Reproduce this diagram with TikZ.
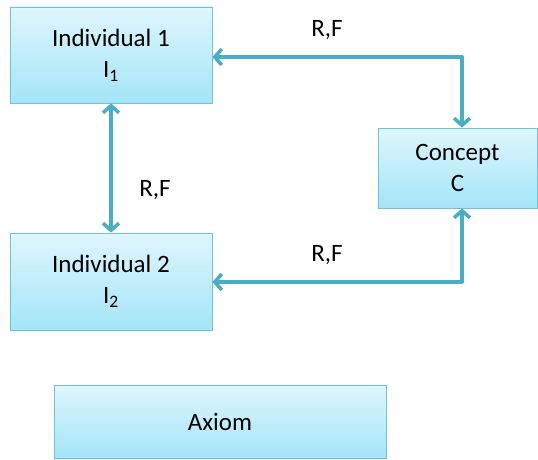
\documentclass[tikz,border=0pt]{standalone}
\usepackage{fontspec}
\setmainfont{Carlito}
\usetikzlibrary{arrows.meta,shadows}
\definecolor{boxtop}{HTML}{DFF6FD}
\definecolor{boxbot}{HTML}{A3E5F8}
\definecolor{boxline}{HTML}{6CC3DC}
\definecolor{conncol}{HTML}{4BACC6}
\tikzset{
  box/.style={draw=boxline, line width=0.8pt, top color=boxtop, bottom color=boxbot,
    align=center, font=\fontsize{25}{31}\selectfont, inner sep=0pt,
    drop shadow={shadow xshift=1.2pt, shadow yshift=-1.2pt, opacity=0.25, fill=black!60}},
  conn/.style={draw=conncol, line width=4pt, line join=round,
    {Straight Barb[length=7pt,width=16pt,line width=3.6pt]}-{Straight Barb[length=7pt,width=16pt,line width=3.6pt]}},
  lbl/.style={font=\fontsize{25}{28}\selectfont}
}
\begin{document}
\begin{tikzpicture}[x=1pt,y=-1pt]
\useasboundingbox (0,0) rectangle (538,460);
\node[box, minimum width=202pt, minimum height=96pt] (i1) at (111,55) {Individual 1\\I\textsubscript{1}};
\node[box, minimum width=202pt, minimum height=97pt] (i2) at (111,281.5) {Individual 2\\I\textsubscript{2}};
\node[box, minimum width=159pt, minimum height=80pt] (c) at (457.5,168) {Concept\\C};
\node[box, minimum width=332pt, minimum height=73pt] (ax) at (220,421.5) {Axiom};
\coordinate (tr) at (462,57);
\coordinate (br) at (462,282);
\draw[conn] (i1.east |- tr) -- (tr) -- (c.north -| tr);
\draw[conn] (i2.east |- br) -- (br) -- (c.south -| br);
\draw[conn] (i1.south) -- (i2.north);
\node[lbl] (l1) at (327,30) {R,F};
\node[lbl] (l2) at (155,190) {R,F};
\node[lbl] (l3) at (327,255) {R,F};
\end{tikzpicture}
\end{document}
